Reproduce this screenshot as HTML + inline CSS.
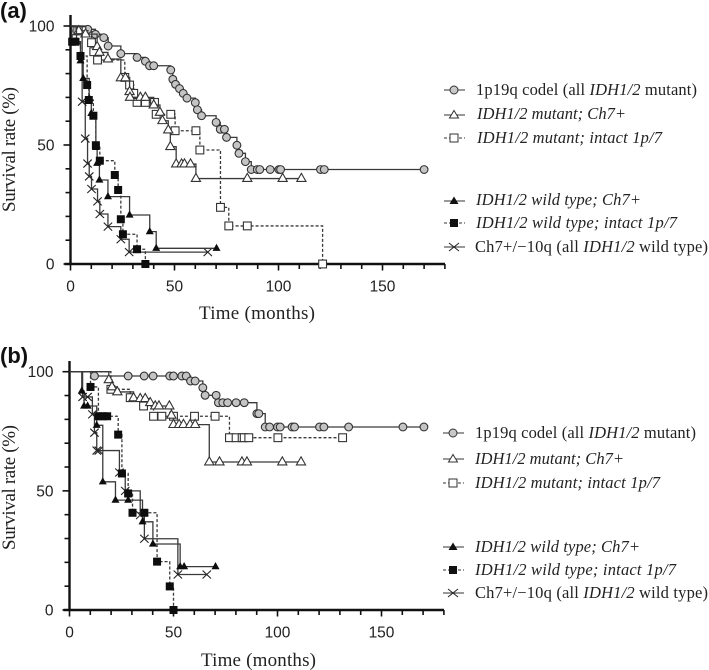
<!DOCTYPE html>
<html lang="en">
<head>
<meta charset="utf-8">
<title>Survival curves</title>
<style>
html,body{margin:0;padding:0;background:#fff;}
svg{display:block;}
.tick{font-family:"Liberation Sans",sans-serif;font-size:15.5px;fill:#222;}
.title{font-family:"Liberation Serif",serif;font-size:19px;fill:#222;}
.leg{font-family:"Liberation Serif",serif;font-size:16.5px;fill:#222;}
.pl{font-family:"Liberation Sans",sans-serif;font-size:22px;font-weight:bold;fill:#111;}
</style>
</head>
<body>
<svg id="chart" xmlns="http://www.w3.org/2000/svg" width="709" height="670" viewBox="0 0 709 670">
  <text class="pl" x="0" y="18">(a)</text>
  <text class="pl" x="0" y="363">(b)</text>
  <text class="title" transform="translate(15,149.5) rotate(-90)" text-anchor="middle" textLength="125">Survival rate (%)</text>
  <text class="title" transform="translate(15,487.5) rotate(-90)" text-anchor="middle" textLength="125">Survival rate (%)</text>
  <text class="title" x="199" y="319" textLength="116">Time (months)</text>
  <text class="title" x="201" y="666" textLength="115">Time (months)</text>

  <g>
    <g>
      <line x1="444" x2="465" y1="90" y2="90" stroke="#333"/><circle cx="454" cy="90" r="4" fill="#c8c8c8" stroke="#333"/>
      <text class="leg" x="476" y="95" textLength="221">1p19q codel (all <tspan font-style="italic">IDH1/2</tspan> mutant)</text>
    </g>
    <g>
      <line x1="444" x2="465" y1="115" y2="115" stroke="#333"/><path d="M454 110.5 L458.5 118 L449.5 118 Z" fill="#fff" stroke="#333"/>
      <text class="leg" x="477" y="119" textLength="149" font-style="italic">IDH1/2 mutant; Ch7+</text>
    </g>
    <g>
      <line x1="444" x2="465" y1="138" y2="138" stroke="#333" stroke-dasharray="3 2"/><rect x="450" y="134" width="8" height="8" fill="#fff" stroke="#333"/>
      <text class="leg" x="477" y="143" textLength="185" font-style="italic">IDH1/2 mutant; intact 1p/7</text>
    </g>
    <g>
      <line x1="444" x2="465" y1="201" y2="201" stroke="#333"/><path d="M454 196.5 L458.5 204 L449.5 204 Z" fill="#111"/>
      <text class="leg" x="476" y="205" textLength="165" font-style="italic">IDH1/2 wild type; Ch7+</text>
    </g>
    <g>
      <line x1="444" x2="465" y1="223" y2="223" stroke="#333" stroke-dasharray="3 2"/><rect x="450" y="219" width="8" height="8" fill="#111"/>
      <text class="leg" x="476" y="228" textLength="201" font-style="italic">IDH1/2 wild type; intact 1p/7</text>
    </g>
    <g>
      <line x1="444" x2="465" y1="247" y2="247" stroke="#333"/><path d="M449 243 L459 251 M449 251 L459 243" stroke="#222" fill="none"/>
      <text class="leg" x="475" y="252" textLength="233">Ch7+/−10q (all <tspan font-style="italic">IDH1/2</tspan> wild type)</text>
    </g>
  </g>

  <g>
    <g>
      <line x1="443" x2="464" y1="433" y2="433" stroke="#333"/><circle cx="453" cy="433" r="4" fill="#c8c8c8" stroke="#333"/>
      <text class="leg" x="475" y="438" textLength="221">1p19q codel (all <tspan font-style="italic">IDH1/2</tspan> mutant)</text>
    </g>
    <g>
      <line x1="443" x2="464" y1="459" y2="459" stroke="#333"/><path d="M453 454.5 L457.5 462 L448.5 462 Z" fill="#fff" stroke="#333"/>
      <text class="leg" x="475" y="464" textLength="149" font-style="italic">IDH1/2 mutant; Ch7+</text>
    </g>
    <g>
      <line x1="443" x2="464" y1="483" y2="483" stroke="#333" stroke-dasharray="3 2"/><rect x="449" y="479" width="8" height="8" fill="#fff" stroke="#333"/>
      <text class="leg" x="475" y="488" textLength="185" font-style="italic">IDH1/2 mutant; intact 1p/7</text>
    </g>
    <g>
      <line x1="443" x2="464" y1="547" y2="547" stroke="#333"/><path d="M453 542.5 L457.5 550 L448.5 550 Z" fill="#111"/>
      <text class="leg" x="475" y="552" textLength="165" font-style="italic">IDH1/2 wild type; Ch7+</text>
    </g>
    <g>
      <line x1="443" x2="464" y1="570" y2="570" stroke="#333" stroke-dasharray="3 2"/><rect x="449" y="566" width="8" height="8" fill="#111"/>
      <text class="leg" x="475" y="575" textLength="201" font-style="italic">IDH1/2 wild type; intact 1p/7</text>
    </g>
    <g>
      <line x1="443" x2="464" y1="593" y2="593" stroke="#333"/><path d="M448 589 L458 597 M448 597 L458 589" stroke="#222" fill="none"/>
      <text class="leg" x="475" y="598" textLength="233">Ch7+/−10q (all <tspan font-style="italic">IDH1/2</tspan> wild type)</text>
    </g>
  </g>
</svg>
<script>
const xMajorLabels = [0, 50, 100, 150];
const yMajorLabels = [0, 50, 100];
const xMinorTicks = [0,10,20,30,40,50,60,70,80,90,100,110,120,130,140,150,160,170,180];
const yMinorTicks = [0,10,20,30,40,50,60,70,80,90,100];

/* Panel (a) */
const aCodelTime = [8.3,12,16,18.1,24.2,32,36,38,40,48.2,49.2,50.5,52.4,54.2,56,60,61,63,70,72,74,75,80,81,84.1,86.9,89.8,91,96,100.2,101,120.2,122,170];
const aCodelRate = [98.6,96.5,95.1,91.6,88.4,86.8,85.2,83.3,83.3,81.5,77.6,75.5,73.7,71.7,69.7,67.8,64.8,62.3,59.5,56.6,56.6,53.2,49.9,46.5,43,39.7,39.7,39.7,39.7,39.7,39.7,39.7,39.7,39.7];
const aMutCh7Time = [4,7.2,12.8,13.9,18,24.2,26.4,28.4,28.6,33.6,36,40,43,44.2,47,48,50.8,53.4,54.8,57.7,60.3,85,102,111];
const aMutCh7Rate = [98,96.6,91.3,88.9,86.1,78.2,78.2,72.4,70,70,70,66.8,63.7,60.2,56.3,49.3,42,42,42,42,35.9,35.9,35.9,35.9];
const aMutIntactTime = [2.5,3.5,4.5,5.5,10.1,11.2,13,26.1,28.4,30.4,32,36,40.4,41.2,48.2,50.3,60.3,62.2,72.1,76.1,85,121.2];
const aMutIntactRate = [98,98,98,98,93,89.2,85.7,78.4,75.2,71.7,67.9,67.9,67.9,62.9,62.9,56,56,47.9,23.8,16,16,0];
const aWildCh7Time = [2.9,4.8,6.1,9,10,12.2,12.8,13.9,18,28.4,38.1,41.2,70.2];
const aWildCh7Rate = [93.4,85.4,78,69.6,63.3,49,42.3,35.3,28.3,20.6,13.6,6.6,6.6];
const aWildIntactTime = [0.8,2.4,4.8,8,8.8,11,12.2,14.1,21.3,22.9,24.2,25.2,32,36];
const aWildIntactRate = [93.4,93.4,87.4,75.2,68.9,62.3,49.9,43.4,37.4,31.1,18.8,12.5,6.2,0];
const aCh710qTime = [5.6,7.1,8.2,9,10.1,13,14.1,18,24.2,28.2,66];
const aCh710qRate = [68.2,52.7,42.2,36.8,31.5,26.3,21,15.7,10.4,5,5];

/* Panel (b) */
const bCodelTime = [12,28.2,35.9,40.2,48.2,50,54,56.1,58.2,60.4,64.1,65.2,70.5,71.6,73.7,76,80.1,84,90.1,91,94.1,96.2,100,101.3,107,108.2,120.2,122.3,134.2,160.3,170.4];
const bCodelRate = [98.2,98.2,98.2,98.2,98.2,98.2,98.2,98.2,96.1,96.1,93.3,90.1,90.1,87,87,87,87,87,82.4,82.4,76.8,76.8,76.8,76.8,76.8,76.8,76.8,76.8,76.8,76.8,76.8];
const bMutCh7Time = [18.9,20.4,23,30.8,34,36.4,38.8,41.2,43,48,49,50,52.7,54.8,58,60.4,67.2,72.1,82.9,85.3,102.3,111.3];
const bMutCh7Rate = [96.6,93.6,91.5,89,88.7,88.7,87,85.6,85.6,85.6,81.7,77.8,77.8,77.8,77.8,77.8,62.1,62.1,62.1,62.1,62.1,62.1];
const bMutIntactTime = [19.9,29.2,35.6,40.4,44.4,50,60.1,70,76.9,80.1,83,84,86.2,100.2,131.3];
const bMutIntactRate = [92.6,89.1,85.6,81.3,81.3,81.3,81.3,81.3,72.3,72.3,72.3,72.3,72.3,72.3,72.3];
const bWildCh7Time = [5.9,7,8.7,13.1,16,22.1,28.2,35.1,40.1,53.2,55.1,70.2];
const bWildCh7Rate = [91.9,85.6,85.6,77.5,53.8,46.1,46.1,37,27.7,18.2,18.2,18.2];
const bWildIntactTime = [10.1,13.9,16,18.1,23.4,25.2,28.2,30.3,36,42.1,48.2,50];
const bWildIntactRate = [93.6,81.3,81.3,81.3,73.6,57.3,48.9,40.8,40.8,20.3,9.9,0];
const bCh710qTime = [6.3,8.7,11,12,13.1,14.1,24,26.8,34,36,52.1,66];
const bCh710qRate = [89.4,89.4,82.1,74.4,66.9,66.9,57.7,50,39.8,29.9,14.9,14.9];

const NS = 'http://www.w3.org/2000/svg';
const root = document.getElementById('chart');

function mk(parent, tag, attrs) {
  const el = document.createElementNS(NS, tag);
  for (const k in attrs) el.setAttribute(k, attrs[k]);
  parent.appendChild(el);
  return el;
}

function drawSeries(parent, seriesName, times, rates, kind, dashed, xScale, yScale) {
  const g = mk(parent, 'g', {});
  
  
  let d = 'M' + xScale(0) + ' ' + yScale(100);
  let prev = 100;
  times.forEach(function (t, i) {
    d += ' L' + xScale(t) + ' ' + yScale(prev) + ' L' + xScale(t) + ' ' + yScale(rates[i]);
    prev = rates[i];
  });
  const line = mk(g, 'path', { d: d, fill: 'none', stroke: '#3a3a3a', 'stroke-width': 1.3 });
  
  
  if (dashed) line.setAttribute('stroke-dasharray', '3 2');
  times.forEach(function (t, i) {
    const x = xScale(t), y = yScale(rates[i]);
    let m;
    if (kind === 'circle') {
      m = mk(g, 'circle', { cx: x, cy: y, r: 3.9, fill: '#c4c4c4', stroke: '#333', 'stroke-width': 1.1 });
    } else if (kind === 'triangle-open') {
      m = mk(g, 'path', { d: 'M' + x + ' ' + (y - 5.2) + ' L' + (x + 4.6) + ' ' + (y + 2.9) + ' L' + (x - 4.6) + ' ' + (y + 2.9) + ' Z', fill: '#fff', stroke: '#333', 'stroke-width': 1.1 });
    } else if (kind === 'square-open') {
      m = mk(g, 'rect', { x: x - 3.9, y: y - 3.9, width: 7.8, height: 7.8, fill: '#fff', stroke: '#333', 'stroke-width': 1.1 });
    } else if (kind === 'triangle-solid') {
      m = mk(g, 'path', { d: 'M' + x + ' ' + (y - 4.6) + ' L' + (x + 4) + ' ' + (y + 2.6) + ' L' + (x - 4) + ' ' + (y + 2.6) + ' Z', fill: '#0d0d0d' });
    } else if (kind === 'square-solid') {
      m = mk(g, 'rect', { x: x - 4, y: y - 4, width: 8, height: 8, fill: '#0d0d0d' });
    } else {
      m = mk(g, 'path', { d: 'M' + (x - 4.2) + ' ' + (y - 4) + ' L' + (x + 4.2) + ' ' + (y + 4) + ' M' + (x - 4.2) + ' ' + (y + 4) + ' L' + (x + 4.2) + ' ' + (y - 4), fill: 'none', stroke: '#222', 'stroke-width': 1.1 });
    }
    
    
  });
}

function drawAxes(parent, x0, y0, xPer, yPer, yTop, xEnd, panel) {
  const xScale = function (v) { return x0 + v * xPer; };
  const yScale = function (v) { return y0 - v * yPer; };
  const axes = mk(parent, 'g', {});
  
  
  const yAxis = mk(axes, 'line', { x1: x0, x2: x0, y1: yTop, y2: y0 + 1, stroke: '#111', 'stroke-width': 2.4 });
  
  
  const xAxis = mk(axes, 'line', { x1: x0 - 6, x2: xEnd, y1: y0, y2: y0, stroke: '#111', 'stroke-width': 2.4 });
  
  
  xMinorTicks.forEach(function (v) {
    const major = xMajorLabels.indexOf(v) >= 0;
    const t = mk(axes, 'line', { x1: xScale(v), x2: xScale(v), y1: y0, y2: y0 + (major ? 6.5 : 5), stroke: '#111', 'stroke-width': 1.6 });
    
    
  });
  yMinorTicks.forEach(function (v) {
    const major = yMajorLabels.indexOf(v) >= 0;
    const t = mk(axes, 'line', { x1: x0 - (major ? 7 : 5), x2: x0, y1: yScale(v), y2: yScale(v), stroke: '#111', 'stroke-width': 1.6 });
    
    
  });
  xMajorLabels.forEach(function (v) {
    const t = mk(axes, 'text', { x: xScale(v), y: y0 + 27.5, 'text-anchor': 'middle', 'class': 'tick' });
    t.textContent = v;
    
    
  });
  yMajorLabels.forEach(function (v) {
    const t = mk(axes, 'text', { x: x0 - 16, y: yScale(v) + 5.5, 'text-anchor': 'end', 'class': 'tick' });
    t.textContent = v;
    
    
  });
  return { xScale: xScale, yScale: yScale };
}

const panelA = mk(root, 'g', {});


const scA = drawAxes(panelA, 70.5, 264, 2.08, 2.38, 15, 445, 'panel-a');
drawSeries(panelA, 'series-codel', aCodelTime, aCodelRate, 'circle', false, scA.xScale, scA.yScale);
drawSeries(panelA, 'series-mutant-intact', aMutIntactTime, aMutIntactRate, 'square-open', true, scA.xScale, scA.yScale);
drawSeries(panelA, 'series-mutant-ch7', aMutCh7Time, aMutCh7Rate, 'triangle-open', false, scA.xScale, scA.yScale);
drawSeries(panelA, 'series-ch7-10q', aCh710qTime, aCh710qRate, 'cross', false, scA.xScale, scA.yScale);
drawSeries(panelA, 'series-wild-ch7', aWildCh7Time, aWildCh7Rate, 'triangle-solid', false, scA.xScale, scA.yScale);
drawSeries(panelA, 'series-wild-intact', aWildIntactTime, aWildIntactRate, 'square-solid', true, scA.xScale, scA.yScale);

const panelB = mk(root, 'g', {});


const scB = drawAxes(panelB, 69.5, 610, 2.08, 2.383, 361, 444, 'panel-b');
drawSeries(panelB, 'series-codel', bCodelTime, bCodelRate, 'circle', false, scB.xScale, scB.yScale);
drawSeries(panelB, 'series-mutant-intact', bMutIntactTime, bMutIntactRate, 'square-open', true, scB.xScale, scB.yScale);
drawSeries(panelB, 'series-mutant-ch7', bMutCh7Time, bMutCh7Rate, 'triangle-open', false, scB.xScale, scB.yScale);
drawSeries(panelB, 'series-ch7-10q', bCh710qTime, bCh710qRate, 'cross', false, scB.xScale, scB.yScale);
drawSeries(panelB, 'series-wild-ch7', bWildCh7Time, bWildCh7Rate, 'triangle-solid', false, scB.xScale, scB.yScale);
drawSeries(panelB, 'series-wild-intact', bWildIntactTime, bWildIntactRate, 'square-solid', true, scB.xScale, scB.yScale);
</script>
</body>
</html>
